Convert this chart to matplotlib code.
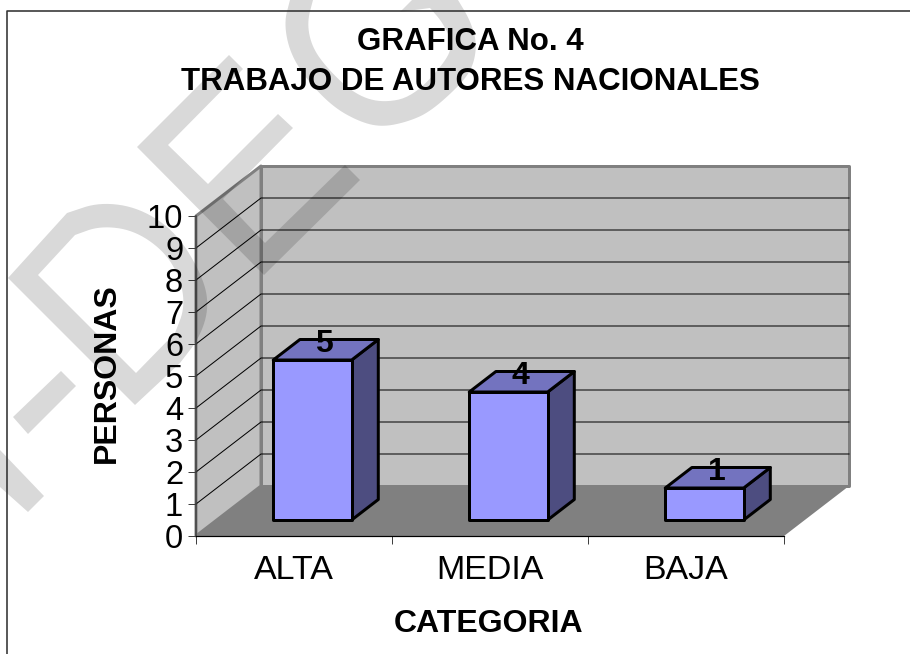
import matplotlib
matplotlib.use("Agg")
import matplotlib.pyplot as plt
from matplotlib.patches import Polygon

plt.rcParams['font.family'] = ['Liberation Sans', 'DejaVu Sans']

categories = ["ALTA", "MEDIA", "BAJA"]
values = [5, 4, 1]
y_ticks = [0, 1, 2, 3, 4, 5, 6, 7, 8, 9, 10]
title = "GRAFICA No. 4\nTRABAJO DE AUTORES NACIONALES"
x_label = "CATEGORIA"
y_label = "PERSONAS"

W, H = 910, 654
# box depth of the fake 3d, in data units
DEPTH_X = 65 / 196
DEPTH_Y = 50 / 32
BAR_W = 0.4
BAR_SHIFT = -0.012
BAR_FRONT = 0.32
BAR_BACK = 0.73
PX = 1 / 100 * 72  # one pixel in points


def pr(x, y, d=0):
    """Oblique projection of a point at depth d."""
    return (x + d * DEPTH_X, y + d * DEPTH_Y)


def poly(ax, pts, fc, ec="none", lw=0, z=1):
    ax.add_patch(Polygon(pts, closed=True, facecolor=fc, edgecolor=ec,
                         linewidth=lw, zorder=z, clip_on=False,
                         joinstyle="round"))


def smooth(pts, n=3):
    """Round off a traced outline, end points stay where they are."""
    for _ in range(n):
        out = [pts[0]]
        for a, b in zip(pts[:-1], pts[1:]):
            out.append((0.75 * a[0] + 0.25 * b[0], 0.75 * a[1] + 0.25 * b[1]))
            out.append((0.25 * a[0] + 0.75 * b[0], 0.25 * a[1] + 0.75 * b[1]))
        out.append(pts[-1])
        pts = out
    return pts


fig = plt.figure(figsize=(W / 100, H / 100), dpi=100, facecolor="white")
ax = fig.add_axes([196 / W, (H - 536) / H, 588 / W, 320 / H])
xmax = len(categories)
ymax = y_ticks[-1]
ax.set_xlim(0, xmax)
ax.set_ylim(0, ymax)
ax.patch.set_visible(False)

# walls and floor
poly(ax, [pr(0, 0), pr(0, ymax), pr(0, ymax, 1), pr(0, 0, 1)], "#c0c0c0",
     "#808080", 3 * PX, 1)
poly(ax, [pr(0, 0, 1), pr(0, ymax, 1), pr(xmax, ymax, 1), pr(xmax, 0, 1)],
     "#c0c0c0", "#808080", 3 * PX, 1)
poly(ax, [pr(0, 0), pr(xmax, 0), pr(xmax, 0, 1), pr(0, 0, 1)], "#808080", z=2)

# gridlines run along the side wall and the back wall
for v in y_ticks[1:-1]:
    p = [pr(0, v), pr(0, v, 1), pr(xmax, v, 1)]
    ax.plot([q[0] for q in p], [q[1] for q in p], color="black",
            lw=1 * PX, zorder=3, clip_on=False)

# bars
for i, v in enumerate(values):
    x0 = i + 0.5 + BAR_SHIFT - BAR_W / 2
    x1 = i + 0.5 + BAR_SHIFT + BAR_W / 2
    lw = 3 * PX
    poly(ax, [pr(x1, 0, BAR_FRONT), pr(x1, v, BAR_FRONT), pr(x1, v, BAR_BACK),
              pr(x1, 0, BAR_BACK)], "#4d4d80", "black", lw, 4)
    poly(ax, [pr(x0, v, BAR_FRONT), pr(x0, v, BAR_BACK), pr(x1, v, BAR_BACK),
              pr(x1, v, BAR_FRONT)], "#7373bf", "black", lw, 4)
    poly(ax, [pr(x0, 0, BAR_FRONT), pr(x0, v, BAR_FRONT), pr(x1, v, BAR_FRONT),
              pr(x1, 0, BAR_FRONT)], "#9999ff", "black", lw, 5)
    lx, ly = pr(i + 0.5 + BAR_SHIFT, v, (BAR_FRONT + BAR_BACK) / 2)
    ax.annotate(str(v), (lx, ly), xytext=(-1, 4.5), textcoords="offset points",
                ha="center", va="center", fontsize=23, fontweight="bold",
                color="black", zorder=6)

# axes
for s in ["top", "right"]:
    ax.spines[s].set_visible(False)
ax.spines["left"].set_color("#404040")
ax.spines["left"].set_linewidth(1.5 * PX)
ax.spines["bottom"].set_color("black")
ax.spines["bottom"].set_linewidth(1.2 * PX)
ax.spines["left"].set_zorder(7)
ax.spines["bottom"].set_zorder(7)
ax.set_yticks(y_ticks)
ax.tick_params(axis="y", length=8 * PX, width=1 * PX, color="#404040",
               labelsize=23.5, pad=3.5)
ax.set_xticks(range(xmax + 1))
ax.set_xticklabels([])
ax.tick_params(axis="x", which="major", length=8 * PX, width=1 * PX,
               color="#404040")
ax.set_xticks([i + 0.5 for i in range(xmax)], minor=True)
ax.set_xticklabels(categories, minor=True)
ax.tick_params(axis="x", which="minor", length=0, labelsize=24.5, pad=19 * PX)

fig.text(470 / W, 1 - 62 / H, title, ha="center", va="center", fontsize=22.5,
         fontweight="bold", linespacing=1.43)
fig.text(489 / W, 1 - 624 / H, x_label, ha="center", va="center", fontsize=23,
         fontweight="bold")
fig.text(107 / W, 1 - 373 / H, y_label, ha="center", va="center", fontsize=23,
         fontweight="bold", rotation=90)

# overlay in pixel coordinates: page frame and the grey watermark
over = fig.add_axes([0, 0, 1, 1], zorder=5)
over.set_xlim(0, W)
over.set_ylim(H, 0)
over.axis("off")

frame_x = [6.5, 6.5, W]
frame_y = [H, 11, 11]
over.plot(frame_x, frame_y, color="#333333", lw=1.6 * PX)

wm_dash = [(13, 417), (61, 371), (76, 386), (28, 434)]
wm_corner = [(0, 450), (44, 496), (28, 512), (0, 487)]
wm_d = ([(8, 278)]
        + smooth([(67, 213), (100, 202), (140, 208), (177, 233), (203, 277),
                  (209, 307), (200, 337), (180, 363)])
        + [(135, 405), (136, 373)]
        + smooth([(175, 333), (185, 307), (180, 277), (163, 250), (133, 230),
                  (100, 226), (75, 235)])
        + [(38, 275), (136, 373), (135, 405)])
wm_e = [(229, 55), (243, 69), (168, 145), (208, 184), (278, 114), (293, 128),
        (223, 199), (265, 243), (345, 165), (360, 180), (264, 275), (137, 147)]
wm_g = (smooth([(290, 0), (284, 23), (290, 53), (307, 80), (333, 107),
                (360, 122), (382, 127), (407, 122), (430, 112), (460, 85),
                (473, 67), (477, 43), (470, 20), (458, 0)])
        + [(412, 0), (400, 12)]
        + smooth([(430, 8), (443, 23), (452, 43), (447, 60), (413, 97),
                  (380, 103), (353, 93), (327, 68), (312, 47), (307, 23),
                  (313, 0)]))
for shape in [wm_dash, wm_corner, wm_d, wm_e, wm_g]:
    over.add_patch(Polygon(shape, closed=True, facecolor="black", alpha=0.15,
                           edgecolor="none"))

fig.savefig("out.png", dpi=100)
